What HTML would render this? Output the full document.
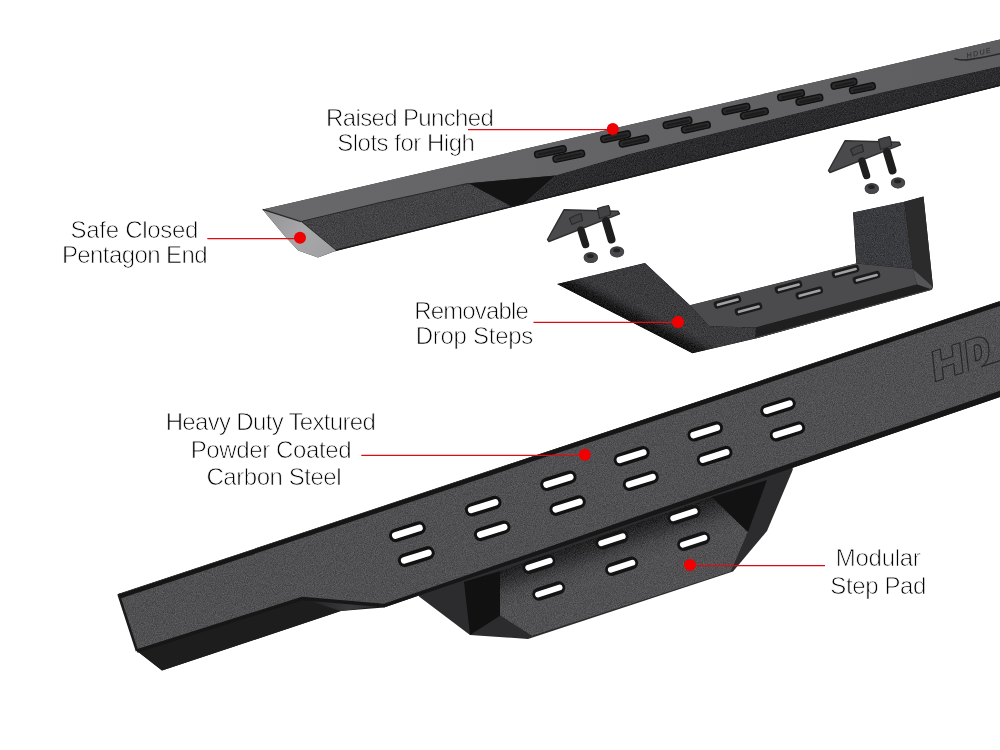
<!DOCTYPE html>
<html><head><meta charset="utf-8"><style>
html,body{margin:0;padding:0;background:#fff;width:1000px;height:750px;overflow:hidden}
svg{display:block}
.txt{opacity:0.999;will-change:transform}
.lbl{font-family:"Liberation Sans",sans-serif;font-size:24px;fill:#000;stroke:#fff;stroke-width:0.75px}
</style></head><body>
<svg width="1000" height="750" viewBox="0 0 1000 750">
<defs>
<filter id="noise" x="0" y="0" width="100%" height="100%" color-interpolation-filters="sRGB">
<feTurbulence type="fractalNoise" baseFrequency="1.1" numOctaves="2" seed="3" result="t"/>
<feColorMatrix in="t" type="matrix" values="1 0 0 0 0  1 0 0 0 0  1 0 0 0 0  0 0 0 0 1" result="n"/>
<feComposite in="SourceGraphic" in2="n" operator="arithmetic" k1="0" k2="1" k3="0.22" k4="-0.11" result="b"/>
<feComposite in="b" in2="SourceGraphic" operator="in"/>
</filter>
<linearGradient id="gTop" x1="262" y1="0" x2="1000" y2="0" gradientUnits="userSpaceOnUse">
<stop offset="0" stop-color="#68686a"/><stop offset="1" stop-color="#5e5e60"/></linearGradient>
<linearGradient id="gFront" x1="0" y1="66" x2="0" y2="205" gradientUnits="userSpaceOnUse">
<stop offset="0" stop-color="#2c2c2e"/><stop offset="1" stop-color="#2a2a2c"/></linearGradient>
<linearGradient id="gWing" x1="620" y1="316" x2="628.2" y2="300" gradientUnits="userSpaceOnUse">
<stop offset="0" stop-color="#121213"/><stop offset="0.35" stop-color="#1a1a1b"/><stop offset="0.75" stop-color="#333335"/><stop offset="1" stop-color="#3b3b3d"/></linearGradient>
<linearGradient id="gEnd" x1="270" y1="215" x2="330" y2="255" gradientUnits="userSpaceOnUse">
<stop offset="0" stop-color="#969698"/><stop offset="0.5" stop-color="#a8a8aa"/><stop offset="1" stop-color="#a0a0a2"/></linearGradient>
<linearGradient id="gStrip" x1="0" y1="0" x2="0" y2="1">
<stop offset="0" stop-color="#1c1c1d"/><stop offset="0.55" stop-color="#232324"/><stop offset="0.8" stop-color="#6a6a6c"/><stop offset="1" stop-color="#9a9a9c"/></linearGradient>
<linearGradient id="gCham" x1="300" y1="0" x2="384" y2="0" gradientUnits="userSpaceOnUse">
<stop offset="0" stop-color="#1d1d1e"/><stop offset="0.6" stop-color="#3a3a3c"/><stop offset="1" stop-color="#2a2a2c"/></linearGradient>
<linearGradient id="gPad" x1="612" y1="530" x2="625.1" y2="567.8" gradientUnits="userSpaceOnUse">
<stop offset="0" stop-color="#1c1c1d"/><stop offset="0.3" stop-color="#2e2e30"/><stop offset="0.65" stop-color="#48484a"/><stop offset="1" stop-color="#515153"/></linearGradient>
</defs>
<polygon points="262.6,209.4 1000.0,39.5 1000.0,85.9 336.0,250.8 318.0,257.6 298.2,250.4 284.7,236.0" fill="#2a2a2c" />
<polygon points="262.6,209.4 1000.0,39.5 1000.0,66.5 880.0,93.0 740.0,127.3 630.0,154.1 570.0,171.6 555.7,175.5 468.8,183.2 380.0,202.5 300.9,221.6" fill="url(#gTop)" />
<polygon points="300.9,221.6 380.0,202.5 468.8,183.2 512.8,206.9 336.0,250.8" fill="#434346" filter="url(#noise)"/>
<polygon points="468.8,183.2 555.7,175.5 525.0,203.0 512.8,206.9" fill="#131314" />
<polygon points="555.7,175.5 570.0,171.6 630.0,154.1 740.0,127.3 880.0,93.0 1000.0,66.5 1000.0,85.9 512.8,206.9 525.0,203.0" fill="url(#gFront)" filter="url(#noise)"/>
<line x1="555.7" y1="175.5" x2="525" y2="203" stroke="#3a3a3c" stroke-width="0.8"/>
<polyline points="300.9,221.6 336,250.8" stroke="#1e1e1f" stroke-width="1.6" fill="none"/>
<polyline points="336,250.2 1000,85.3" stroke="#1a1a1b" stroke-width="1.5" fill="none"/>
<polyline points="300.9,221.6 380,202.5 468.8,183.2" stroke="#2a2a2c" stroke-width="1" fill="none"/>
<polygon points="262.6,209.4 300.9,221.6 336.0,250.4 318.0,257.6 298.2,250.4 284.7,236.0" fill="url(#gEnd)" />
<polyline points="262.65,209.45 300.9,221.6" stroke="#2a2a2c" stroke-width="1.3" fill="none"/>
<rect x="-16.25" y="-3.60" width="32.50" height="7.20" rx="3.00" fill="#7a7a7c" transform="translate(550.40,152.30) rotate(-12.00)" />
<rect x="-16.00" y="-3.30" width="32.00" height="6.60" rx="3.00" fill="#2a2a2b" transform="translate(550.40,151.70) rotate(-12.00)" stroke="#111112" stroke-width="1.5"/>
<rect x="-13.00" y="-1.10" width="26.00" height="2.20" rx="1.00" fill="#1c1c1d" transform="translate(550.70,152.00) rotate(-12.00)" />
<rect x="-16.25" y="-3.60" width="32.50" height="7.20" rx="3.00" fill="#7a7a7c" transform="translate(568.80,156.80) rotate(-12.00)" />
<rect x="-16.00" y="-3.30" width="32.00" height="6.60" rx="3.00" fill="#2a2a2b" transform="translate(568.80,156.20) rotate(-12.00)" stroke="#111112" stroke-width="1.5"/>
<rect x="-13.00" y="-1.10" width="26.00" height="2.20" rx="1.00" fill="#1c1c1d" transform="translate(569.10,156.50) rotate(-12.00)" />
<rect x="-15.25" y="-3.60" width="30.50" height="7.20" rx="3.00" fill="#7a7a7c" transform="translate(615.60,137.30) rotate(-12.00)" />
<rect x="-15.00" y="-3.30" width="30.00" height="6.60" rx="3.00" fill="#2a2a2b" transform="translate(615.60,136.70) rotate(-12.00)" stroke="#111112" stroke-width="1.5"/>
<rect x="-12.00" y="-1.10" width="24.00" height="2.20" rx="1.00" fill="#1c1c1d" transform="translate(615.90,137.00) rotate(-12.00)" />
<rect x="-15.25" y="-3.60" width="30.50" height="7.20" rx="3.00" fill="#7a7a7c" transform="translate(634.00,141.80) rotate(-12.00)" />
<rect x="-15.00" y="-3.30" width="30.00" height="6.60" rx="3.00" fill="#2a2a2b" transform="translate(634.00,141.20) rotate(-12.00)" stroke="#111112" stroke-width="1.5"/>
<rect x="-12.00" y="-1.10" width="24.00" height="2.20" rx="1.00" fill="#1c1c1d" transform="translate(634.30,141.50) rotate(-12.00)" />
<rect x="-14.75" y="-3.60" width="29.50" height="7.20" rx="3.00" fill="#7a7a7c" transform="translate(677.50,123.40) rotate(-12.00)" />
<rect x="-14.50" y="-3.30" width="29.00" height="6.60" rx="3.00" fill="#2a2a2b" transform="translate(677.50,122.80) rotate(-12.00)" stroke="#111112" stroke-width="1.5"/>
<rect x="-11.50" y="-1.10" width="23.00" height="2.20" rx="1.00" fill="#1c1c1d" transform="translate(677.80,123.10) rotate(-12.00)" />
<rect x="-14.75" y="-3.60" width="29.50" height="7.20" rx="3.00" fill="#7a7a7c" transform="translate(695.90,127.90) rotate(-12.00)" />
<rect x="-14.50" y="-3.30" width="29.00" height="6.60" rx="3.00" fill="#2a2a2b" transform="translate(695.90,127.30) rotate(-12.00)" stroke="#111112" stroke-width="1.5"/>
<rect x="-11.50" y="-1.10" width="23.00" height="2.20" rx="1.00" fill="#1c1c1d" transform="translate(696.20,127.60) rotate(-12.00)" />
<rect x="-14.25" y="-3.60" width="28.50" height="7.20" rx="3.00" fill="#7a7a7c" transform="translate(736.00,109.65) rotate(-12.00)" />
<rect x="-14.00" y="-3.30" width="28.00" height="6.60" rx="3.00" fill="#2a2a2b" transform="translate(736.00,109.05) rotate(-12.00)" stroke="#111112" stroke-width="1.5"/>
<rect x="-11.00" y="-1.10" width="22.00" height="2.20" rx="1.00" fill="#1c1c1d" transform="translate(736.30,109.35) rotate(-12.00)" />
<rect x="-14.25" y="-3.60" width="28.50" height="7.20" rx="3.00" fill="#7a7a7c" transform="translate(754.40,114.15) rotate(-12.00)" />
<rect x="-14.00" y="-3.30" width="28.00" height="6.60" rx="3.00" fill="#2a2a2b" transform="translate(754.40,113.55) rotate(-12.00)" stroke="#111112" stroke-width="1.5"/>
<rect x="-11.00" y="-1.10" width="22.00" height="2.20" rx="1.00" fill="#1c1c1d" transform="translate(754.70,113.85) rotate(-12.00)" />
<rect x="-13.75" y="-3.60" width="27.50" height="7.20" rx="3.00" fill="#7a7a7c" transform="translate(791.00,95.90) rotate(-12.00)" />
<rect x="-13.50" y="-3.30" width="27.00" height="6.60" rx="3.00" fill="#2a2a2b" transform="translate(791.00,95.30) rotate(-12.00)" stroke="#111112" stroke-width="1.5"/>
<rect x="-10.50" y="-1.10" width="21.00" height="2.20" rx="1.00" fill="#1c1c1d" transform="translate(791.30,95.60) rotate(-12.00)" />
<rect x="-13.75" y="-3.60" width="27.50" height="7.20" rx="3.00" fill="#7a7a7c" transform="translate(809.40,100.40) rotate(-12.00)" />
<rect x="-13.50" y="-3.30" width="27.00" height="6.60" rx="3.00" fill="#2a2a2b" transform="translate(809.40,99.80) rotate(-12.00)" stroke="#111112" stroke-width="1.5"/>
<rect x="-10.50" y="-1.10" width="21.00" height="2.20" rx="1.00" fill="#1c1c1d" transform="translate(809.70,100.10) rotate(-12.00)" />
<rect x="-13.25" y="-3.60" width="26.50" height="7.20" rx="3.00" fill="#7a7a7c" transform="translate(844.00,84.40) rotate(-12.00)" />
<rect x="-13.00" y="-3.30" width="26.00" height="6.60" rx="3.00" fill="#2a2a2b" transform="translate(844.00,83.80) rotate(-12.00)" stroke="#111112" stroke-width="1.5"/>
<rect x="-10.00" y="-1.10" width="20.00" height="2.20" rx="1.00" fill="#1c1c1d" transform="translate(844.30,84.10) rotate(-12.00)" />
<rect x="-13.25" y="-3.60" width="26.50" height="7.20" rx="3.00" fill="#7a7a7c" transform="translate(862.40,88.90) rotate(-12.00)" />
<rect x="-13.00" y="-3.30" width="26.00" height="6.60" rx="3.00" fill="#2a2a2b" transform="translate(862.40,88.30) rotate(-12.00)" stroke="#111112" stroke-width="1.5"/>
<rect x="-10.00" y="-1.10" width="20.00" height="2.20" rx="1.00" fill="#1c1c1d" transform="translate(862.70,88.60) rotate(-12.00)" />
<g transform="translate(0,0)">
<polygon points="564.0,209.8 618.0,211.2 619.5,213.8 549.0,241.5 547.5,239.5" fill="#4a4a4c" stroke="#2e2e30" stroke-width="1.4" stroke-linejoin="round"/>
<line x1="581" y1="230" x2="585.5" y2="244.5" stroke="#1e1e1f" stroke-width="7.5" stroke-linecap="round"/>
<line x1="606" y1="221" x2="611.5" y2="239.5" stroke="#1e1e1f" stroke-width="8" stroke-linecap="round"/>
<path d="M569.5,218.5 Q575,215 581,213.5 L582.5,220.5 Q577,222 572,224.5 Z" fill="#434345" stroke="#2a2a2b" stroke-width="1.2" stroke-linejoin="round"/>
<path d="M597.5,208.5 Q603,206.5 608.5,205.5 Q610,208 610.5,215 Q605,216.5 599.5,218.5 Z" fill="#434345" stroke="#2a2a2b" stroke-width="1.2" stroke-linejoin="round"/>
<ellipse cx="590.8" cy="257.5" rx="7.2" ry="5.6" fill="#3a3a3c"/>
<ellipse cx="590.8" cy="258.3" rx="6.8" ry="4.6" fill="#48484a"/>
<ellipse cx="590.5" cy="256.0" rx="3.4" ry="2" fill="#222224"/>
<ellipse cx="617" cy="251.8" rx="7.2" ry="5.6" fill="#3a3a3c"/>
<ellipse cx="617" cy="252.60000000000002" rx="6.8" ry="4.6" fill="#48484a"/>
<ellipse cx="616.7" cy="250.3" rx="3.4" ry="2" fill="#222224"/>
</g>
<g transform="translate(281,-69)">
<polygon points="564.0,209.8 618.0,211.2 619.5,213.8 549.0,241.5 547.5,239.5" fill="#4a4a4c" stroke="#2e2e30" stroke-width="1.4" stroke-linejoin="round"/>
<line x1="581" y1="230" x2="585.5" y2="244.5" stroke="#1e1e1f" stroke-width="7.5" stroke-linecap="round"/>
<line x1="606" y1="221" x2="611.5" y2="239.5" stroke="#1e1e1f" stroke-width="8" stroke-linecap="round"/>
<path d="M569.5,218.5 Q575,215 581,213.5 L582.5,220.5 Q577,222 572,224.5 Z" fill="#434345" stroke="#2a2a2b" stroke-width="1.2" stroke-linejoin="round"/>
<path d="M597.5,208.5 Q603,206.5 608.5,205.5 Q610,208 610.5,215 Q605,216.5 599.5,218.5 Z" fill="#434345" stroke="#2a2a2b" stroke-width="1.2" stroke-linejoin="round"/>
<ellipse cx="590.8" cy="257.5" rx="7.2" ry="5.6" fill="#3a3a3c"/>
<ellipse cx="590.8" cy="258.3" rx="6.8" ry="4.6" fill="#48484a"/>
<ellipse cx="590.5" cy="256.0" rx="3.4" ry="2" fill="#222224"/>
<ellipse cx="617" cy="251.8" rx="7.2" ry="5.6" fill="#3a3a3c"/>
<ellipse cx="617" cy="252.60000000000002" rx="6.8" ry="4.6" fill="#48484a"/>
<ellipse cx="616.7" cy="250.3" rx="3.4" ry="2" fill="#222224"/>
</g>
<polygon points="557.0,284.0 645.0,263.0 690.0,305.2 856.3,263.6 853.0,212.4 904.3,201.7 923.5,196.4 933.0,287.0 932.0,289.5 755.5,338.5 692.4,353.2" fill="#202021" />
<polygon points="853.0,212.4 904.3,201.7 912.9,269.0 856.3,263.6" fill="#3a3b3e" filter="url(#noise)"/>
<polygon points="904.3,201.7 923.5,196.4 933.0,287.0 917.0,284.5 912.9,269.0" fill="#2b2b2c" />
<polygon points="912.9,269.0 917.0,284.5 930.0,289.5 933.0,287.0" fill="#555557" />
<polygon points="690.0,305.2 856.0,263.6 912.9,269.0 917.0,284.5 756.0,327.4 709.2,326.2" fill="#4b4b4e" />
<polygon points="756.0,327.4 917.0,284.5 932.0,289.5 755.5,338.5" fill="#1f1f20" />
<line x1="756" y1="337.8" x2="931" y2="289.6" stroke="#4a4a4c" stroke-width="1"/>
<polygon points="557.0,284.0 645.0,263.0 690.0,305.2 709.2,326.2 756.0,327.4 755.5,338.5 692.4,353.2" fill="url(#gWing)" filter="url(#noise)"/>
<rect x="-14.00" y="-3.75" width="28.00" height="7.50" rx="3.00" fill="#1b1b1c" transform="translate(727.50,302.00) rotate(-15.00)" />
<rect x="-11.50" y="-1.30" width="23.00" height="2.60" rx="1.30" fill="#a2a2a4" transform="translate(727.80,302.20) rotate(-15.00)" />
<rect x="-14.00" y="-3.75" width="28.00" height="7.50" rx="3.00" fill="#1b1b1c" transform="translate(748.50,309.00) rotate(-15.00)" />
<rect x="-11.50" y="-1.30" width="23.00" height="2.60" rx="1.30" fill="#a2a2a4" transform="translate(748.80,309.20) rotate(-15.00)" />
<rect x="-14.00" y="-3.75" width="28.00" height="7.50" rx="3.00" fill="#1b1b1c" transform="translate(788.50,287.00) rotate(-15.00)" />
<rect x="-11.50" y="-1.30" width="23.00" height="2.60" rx="1.30" fill="#a2a2a4" transform="translate(788.80,287.20) rotate(-15.00)" />
<rect x="-14.00" y="-3.75" width="28.00" height="7.50" rx="3.00" fill="#1b1b1c" transform="translate(809.30,293.00) rotate(-15.00)" />
<rect x="-11.50" y="-1.30" width="23.00" height="2.60" rx="1.30" fill="#a2a2a4" transform="translate(809.60,293.20) rotate(-15.00)" />
<rect x="-14.00" y="-3.75" width="28.00" height="7.50" rx="3.00" fill="#1b1b1c" transform="translate(845.50,271.50) rotate(-15.00)" />
<rect x="-11.50" y="-1.30" width="23.00" height="2.60" rx="1.30" fill="#a2a2a4" transform="translate(845.80,271.70) rotate(-15.00)" />
<rect x="-14.00" y="-3.75" width="28.00" height="7.50" rx="3.00" fill="#1b1b1c" transform="translate(866.50,277.50) rotate(-15.00)" />
<rect x="-11.50" y="-1.30" width="23.00" height="2.60" rx="1.30" fill="#a2a2a4" transform="translate(866.80,277.70) rotate(-15.00)" />
<polygon points="419.0,596.6 470.0,635.0 528.0,639.0 733.0,571.5 767.0,531.0 792.7,470.0 792.7,440.0 419.0,570.0" fill="#2c2c2e" />
<polygon points="464.0,581.7 500.0,571.0 500.0,615.8 470.0,635.0" fill="#111112" />
<polygon points="711.7,497.0 767.0,480.0 748.0,532.0" fill="#121213" />
<polygon points="500.0,571.0 711.7,497.0 748.0,532.0 731.0,571.5 532.0,636.0 500.0,615.8" fill="url(#gPad)" filter="url(#noise)"/>
<rect x="-17.00" y="-6.50" width="34.00" height="13.00" rx="6.50" fill="#141415" transform="translate(539.00,564.20) rotate(-18.00)" />
<rect x="-14.25" y="-2.95" width="28.50" height="5.90" rx="2.95" fill="#ffffff" transform="translate(539.00,564.20) rotate(-18.00)" />
<rect x="-17.00" y="-6.50" width="34.00" height="13.00" rx="6.50" fill="#141415" transform="translate(612.00,539.80) rotate(-18.00)" />
<rect x="-14.25" y="-2.95" width="28.50" height="5.90" rx="2.95" fill="#ffffff" transform="translate(612.00,539.80) rotate(-18.00)" />
<rect x="-17.00" y="-6.50" width="34.00" height="13.00" rx="6.50" fill="#141415" transform="translate(684.00,514.80) rotate(-18.00)" />
<rect x="-14.25" y="-2.95" width="28.50" height="5.90" rx="2.95" fill="#ffffff" transform="translate(684.00,514.80) rotate(-18.00)" />
<rect x="-17.00" y="-6.50" width="34.00" height="13.00" rx="6.50" fill="#141415" transform="translate(548.80,591.00) rotate(-18.00)" />
<rect x="-14.25" y="-2.95" width="28.50" height="5.90" rx="2.95" fill="#ffffff" transform="translate(548.80,591.00) rotate(-18.00)" />
<rect x="-17.00" y="-6.50" width="34.00" height="13.00" rx="6.50" fill="#141415" transform="translate(621.60,566.30) rotate(-18.00)" />
<rect x="-14.25" y="-2.95" width="28.50" height="5.90" rx="2.95" fill="#ffffff" transform="translate(621.60,566.30) rotate(-18.00)" />
<rect x="-17.00" y="-6.50" width="34.00" height="13.00" rx="6.50" fill="#141415" transform="translate(693.60,541.20) rotate(-18.00)" />
<rect x="-14.25" y="-2.95" width="28.50" height="5.90" rx="2.95" fill="#ffffff" transform="translate(693.60,541.20) rotate(-18.00)" />
<polygon points="118.0,594.0 1000.0,301.0 1000.0,397.0 384.0,607.4 340.8,611.0 162.0,670.5 137.0,651.0" fill="#1d1d1e" />
<polygon points="137.0,651.0 302.4,598.4 340.8,611.0 162.0,670.5" fill="#1d1d1e" />
<polygon points="302.4,598.4 384.0,605.6 340.8,611.0" fill="url(#gCham)" />
<polygon points="118.0,594.0 1000.0,301.0 1000.0,394.0 384.0,605.6 302.4,598.4 137.0,651.0" fill="#505052" filter="url(#noise)"/>
<polyline points="119,596.6 1000,303.6" stroke="#151516" stroke-width="4.5" fill="none"/>
<polyline points="137,651 302.4,598.4 384,605.6" stroke="#161617" stroke-width="3.5" fill="none" stroke-linejoin="round"/>
<polygon points="384,603.8 1000,390.8 1000,397 384,607.4" fill="#161617"/>
<polyline points="118.5,594 137,651" stroke="#1a1a1b" stroke-width="2.5" fill="none"/>
<g transform="translate(935.5,381.6) skewY(-18) skewX(6)" fill="none" stroke="#252527" stroke-width="1.1" stroke-linejoin="round"><path d="M0,0 V-31 H8 V-19.5 H19.5 V-31 H27.5 V0 H19.5 V-12 H8 V0 Z"/><path d="M33,0 V-31 H43 C51,-31 55,-25 55,-16 C55,-7 51,-1 46,0 L80,0 M41,-7.5 V-23.5 H43 C46,-23.5 47.5,-20 47.5,-16 C47.5,-11 46,-7.5 43,-7.5 Z"/></g><path d="M955,58.7 Q962,60.8 969,59.6 Q985,57.5 1000,53.8" stroke="#2a2a2c" stroke-width="1.6" fill="none" stroke-linecap="round"/>
<g transform="translate(967,58.2) rotate(-13)"><text x="0" y="0" font-family="Liberation Sans, sans-serif" font-weight="bold" font-style="italic" font-size="7.5" fill="#2e2e30" opacity="0.75" letter-spacing="1.2">HDUE</text></g>
<rect x="-19.00" y="-6.80" width="38.00" height="13.60" rx="6.80" fill="#111112" transform="translate(407.40,531.70) rotate(-17.50)" />
<rect x="-16.00" y="-3.30" width="32.00" height="6.60" rx="3.30" fill="#ffffff" transform="translate(407.40,531.70) rotate(-17.50)" />
<rect x="-19.00" y="-6.80" width="38.00" height="13.60" rx="6.80" fill="#111112" transform="translate(416.30,556.60) rotate(-17.50)" />
<rect x="-16.00" y="-3.30" width="32.00" height="6.60" rx="3.30" fill="#ffffff" transform="translate(416.30,556.60) rotate(-17.50)" />
<rect x="-18.85" y="-6.75" width="37.70" height="13.49" rx="6.75" fill="#111112" transform="translate(483.20,506.20) rotate(-17.50)" />
<rect x="-15.87" y="-3.27" width="31.74" height="6.55" rx="3.27" fill="#ffffff" transform="translate(483.20,506.20) rotate(-17.50)" />
<rect x="-18.85" y="-6.75" width="37.70" height="13.49" rx="6.75" fill="#111112" transform="translate(492.20,530.80) rotate(-17.50)" />
<rect x="-15.87" y="-3.27" width="31.74" height="6.55" rx="3.27" fill="#ffffff" transform="translate(492.20,530.80) rotate(-17.50)" />
<rect x="-18.70" y="-6.69" width="37.39" height="13.38" rx="6.69" fill="#111112" transform="translate(558.40,480.80) rotate(-17.50)" />
<rect x="-15.74" y="-3.25" width="31.49" height="6.49" rx="3.25" fill="#ffffff" transform="translate(558.40,480.80) rotate(-17.50)" />
<rect x="-18.70" y="-6.69" width="37.39" height="13.38" rx="6.69" fill="#111112" transform="translate(567.60,505.60) rotate(-17.50)" />
<rect x="-15.74" y="-3.25" width="31.49" height="6.49" rx="3.25" fill="#ffffff" transform="translate(567.60,505.60) rotate(-17.50)" />
<rect x="-18.54" y="-6.64" width="37.09" height="13.27" rx="6.64" fill="#111112" transform="translate(631.60,456.20) rotate(-17.50)" />
<rect x="-15.62" y="-3.22" width="31.23" height="6.44" rx="3.22" fill="#ffffff" transform="translate(631.60,456.20) rotate(-17.50)" />
<rect x="-18.54" y="-6.64" width="37.09" height="13.27" rx="6.64" fill="#111112" transform="translate(640.80,480.80) rotate(-17.50)" />
<rect x="-15.62" y="-3.22" width="31.23" height="6.44" rx="3.22" fill="#ffffff" transform="translate(640.80,480.80) rotate(-17.50)" />
<rect x="-18.39" y="-6.58" width="36.78" height="13.16" rx="6.58" fill="#111112" transform="translate(705.20,431.40) rotate(-17.50)" />
<rect x="-15.49" y="-3.19" width="30.98" height="6.39" rx="3.19" fill="#ffffff" transform="translate(705.20,431.40) rotate(-17.50)" />
<rect x="-18.39" y="-6.58" width="36.78" height="13.16" rx="6.58" fill="#111112" transform="translate(714.60,456.00) rotate(-17.50)" />
<rect x="-15.49" y="-3.19" width="30.98" height="6.39" rx="3.19" fill="#ffffff" transform="translate(714.60,456.00) rotate(-17.50)" />
<rect x="-18.24" y="-6.53" width="36.48" height="13.06" rx="6.53" fill="#111112" transform="translate(778.00,407.20) rotate(-17.50)" />
<rect x="-15.36" y="-3.17" width="30.72" height="6.34" rx="3.17" fill="#ffffff" transform="translate(778.00,407.20) rotate(-17.50)" />
<rect x="-18.24" y="-6.53" width="36.48" height="13.06" rx="6.53" fill="#111112" transform="translate(787.40,431.40) rotate(-17.50)" />
<rect x="-15.36" y="-3.17" width="30.72" height="6.34" rx="3.17" fill="#ffffff" transform="translate(787.40,431.40) rotate(-17.50)" />
<line x1="468" y1="129.6" x2="612" y2="129.6" stroke="#dc0c16" stroke-width="1.35"/>
<circle cx="612.8" cy="128.9" r="6" fill="#f00000"/>
<line x1="207.3" y1="238.6" x2="299" y2="238.6" stroke="#dc0c16" stroke-width="1.35"/>
<circle cx="300" cy="237.8" r="6" fill="#f00000"/>
<line x1="533.5" y1="322.4" x2="677" y2="322.4" stroke="#dc0c16" stroke-width="1.35"/>
<circle cx="678" cy="322" r="6" fill="#f00000"/>
<line x1="361.25" y1="455.4" x2="585" y2="455.4" stroke="#dc0c16" stroke-width="1.35"/>
<circle cx="584.8" cy="454.8" r="6" fill="#f00000"/>
<line x1="690" y1="565.6" x2="825" y2="565.6" stroke="#dc0c16" stroke-width="1.35"/>
<circle cx="690" cy="565" r="6" fill="#f00000"/>

<g class="txt"><text x="326.05" y="126.00" textLength="167.80" lengthAdjust="spacing" class="lbl">Raised Punched</text>
<text x="337.25" y="150.60" textLength="137.60" lengthAdjust="spacing" class="lbl">Slots for High</text>
<text x="70.55" y="238.10" textLength="127.90" lengthAdjust="spacing" class="lbl">Safe Closed</text>
<text x="61.95" y="263.30" textLength="145.60" lengthAdjust="spacing" class="lbl">Pentagon End</text>
<text x="414.15" y="319.10" textLength="114.70" lengthAdjust="spacing" class="lbl">Removable</text>
<text x="415.65" y="344.00" textLength="117.70" lengthAdjust="spacing" class="lbl">Drop Steps</text>
<text x="165.65" y="429.85" textLength="210.20" lengthAdjust="spacing" class="lbl">Heavy Duty Textured</text>
<text x="190.65" y="457.60" textLength="160.95" lengthAdjust="spacing" class="lbl">Powder Coated</text>
<text x="206.40" y="485.10" textLength="135.20" lengthAdjust="spacing" class="lbl">Carbon Steel</text>
<text x="835.85" y="565.60" textLength="85.00" lengthAdjust="spacing" class="lbl">Modular</text>
<text x="830.25" y="593.60" textLength="96.20" lengthAdjust="spacing" class="lbl">Step Pad</text>
</g>
</svg>
</body></html>
